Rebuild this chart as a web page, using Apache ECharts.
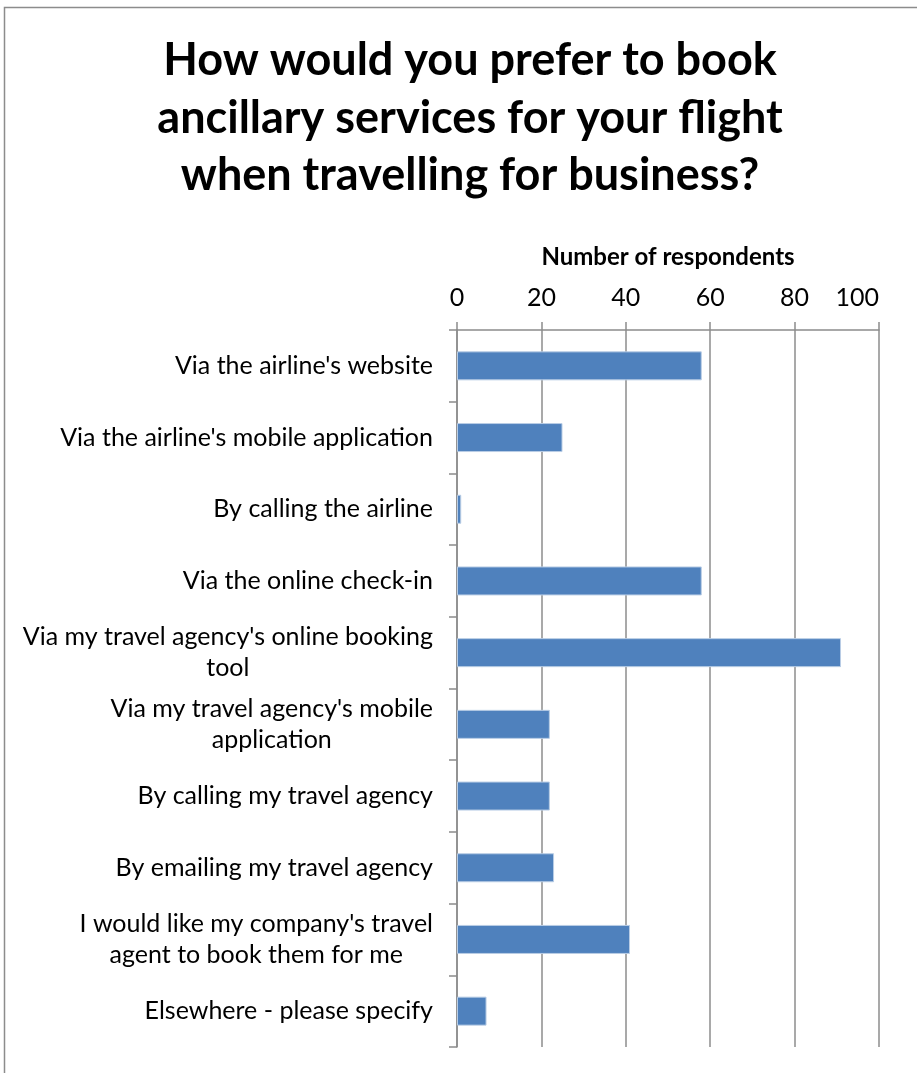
<!DOCTYPE html>
<html>
<head>
<meta charset="utf-8">
<script src="https://cdn.jsdelivr.net/npm/echarts@6/dist/echarts.min.js"></script>
<style>
html,body{margin:0;padding:0;background:#fff;}
#chart{width:917px;height:1073px;}
</style>
</head>
<body>
<div id="chart"></div>
<script>
const titleText = "How would you prefer to book\nancillary services for your flight\nwhen travelling for business?";
const axisName = "Number of respondents";
const categories = [
  "Via the airline's website",
  "Via the airline's mobile application",
  "By calling the airline",
  "Via the online check-in",
  "Via my travel agency's online booking\ntool",
  "Via my travel agency's mobile\napplication",
  "By calling my travel agency",
  "By emailing my travel agency",
  "I would like my company's travel\nagent to book them for me",
  "Elsewhere - please specify"
];
const values = [58, 25, 1, 58, 91, 22, 22, 23, 41, 7];
const xTicks = [0, 20, 40, 60, 80, 100];

const FONT = "Lato, 'Open Sans', sans-serif";
const chart = echarts.init(document.getElementById('chart'), null, {renderer: 'canvas'});
chart.setOption({
  animation: false,
  backgroundColor: '#ffffff',
  graphic: [{
    type: 'rect',
    shape: {x: 4.5, y: 7.5, width: 930, height: 1090},
    style: {fill: 'none', stroke: '#8c8c8c', lineWidth: 1.5},
    silent: true
  }],
  title: {
    text: titleText,
    left: 465,
    top: 27,
    textAlign: 'center',
    textStyle: {fontFamily: FONT, fontWeight: 'bold', fontSize: 45, lineHeight: 57.5, color: '#000'}
  },
  grid: {left: 457, right: 38, top: 330, bottom: 26, containLabel: false},
  xAxis: {
    type: 'value',
    position: 'top',
    min: xTicks[0],
    max: xTicks[xTicks.length - 1],
    interval: 20,
    name: axisName,
    nameLocation: 'middle',
    nameGap: 61,
    nameTextStyle: {fontFamily: FONT, fontWeight: 'bold', fontSize: 24, color: '#000'},
    axisLine: {show: true, lineStyle: {color: '#8c8c8c', width: 1.5}},
    axisTick: {show: true, inside: false, length: 8, lineStyle: {color: '#8c8c8c', width: 1.5}},
    axisLabel: {fontFamily: FONT, fontSize: 25, color: '#000', margin: 20, alignMaxLabel: 'right'},
    splitLine: {show: true, lineStyle: {color: '#8c8c8c', width: 1.5}}
  },
  yAxis: {
    type: 'category',
    data: categories,
    inverse: true,
    axisLine: {show: true, lineStyle: {color: '#8c8c8c', width: 1.5}},
    axisTick: {show: true, inside: false, length: 8, alignWithLabel: false, lineStyle: {color: '#8c8c8c', width: 1.5}},
    axisLabel: {
      fontFamily: FONT, fontSize: 25, color: '#000', margin: 24, lineHeight: 31, align: 'right',
      formatter: function (v) { return v.split('\n').map(function (s) { return '{c|' + s + '}'; }).join('\n'); },
      rich: {c: {fontFamily: FONT, fontSize: 25, color: '#000', lineHeight: 31, align: 'center'}}
    },
    splitLine: {show: false}
  },
  series: [{
    type: 'bar',
    data: values,
    barWidth: 29,
    itemStyle: {color: '#4f81bd', borderColor: '#b9cde5', borderWidth: 1}
  }]
});
</script>
</body>
</html>
